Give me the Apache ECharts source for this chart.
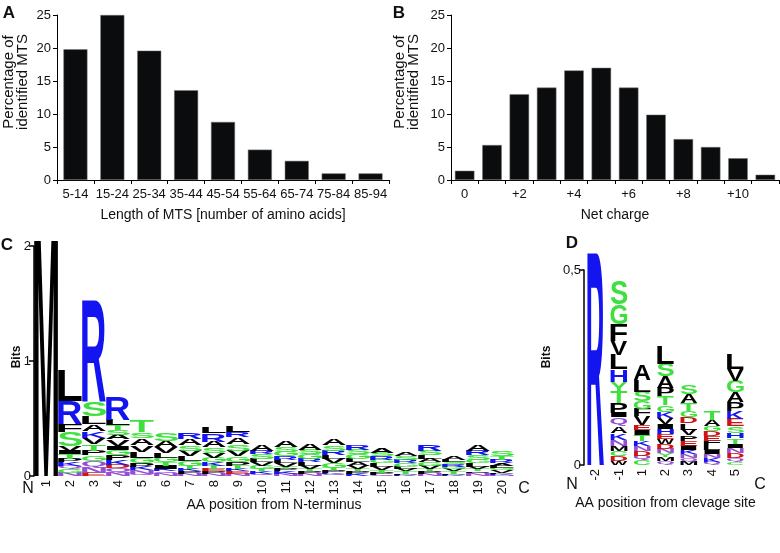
<!DOCTYPE html>
<html>
<head>
<meta charset="utf-8">
<script src="https://cdn.jsdelivr.net/npm/echarts@6/dist/echarts.min.js"></script>
<style>
  html, body { margin: 0; padding: 0; background: #fff; }
  #chart { width: 780px; height: 553px; }
</style>
</head>
<body>
<div id="chart"></div>
<script>
// A: length of MTS
const lengthBins = ['5-14', '15-24', '25-34', '35-44', '45-54', '55-64', '65-74', '75-84', '85-94'];
const lengthPct = [19.8, 25.0, 19.6, 13.6, 8.8, 4.6, 2.9, 1.0, 1.0];

// B: net charge
const chargeBins = ['0', '+1', '+2', '+3', '+4', '+5', '+6', '+7', '+8', '+9', '+10', '+11'];
const chargePct = [1.4, 5.3, 13.0, 14.0, 16.6, 17.0, 14.0, 9.9, 6.2, 5.0, 3.3, 0.8];

// C: logo, positions from N-terminus (letter, bits), bottom -> top
const ntermPos = ['1','2','3','4','5','6','7','8','9','10','11','12','13','14','15','16','17','18','19','20'];
const ntermLogo = [
  [['M', 2.08]],
  [['N',.03],['G',.03],['Q',.03],['K',.03],['P',.03],['T',.04],['I',.03],['V',.04],['S',.12],['F',.07],['R',.20],['L',.27]],
  [['E',.03],['N',.05],['Q',.05],['G',.05],['P',.04],['T',.06],['V',.05],['K',.06],['A',.06],['L',.07],['S',.13],['R',.88]],
  [['N',.03],['Q',.04],['D',.03],['K',.04],['P',.04],['G',.05],['I',.03],['V',.06],['A',.04],['S',.04],['T',.04],['L',.05],['R',.20]],
  [['Q',.02],['N',.03],['K',.03],['P',.03],['G',.05],['L',.05],['V',.06],['A',.06],['S',.05],['T',.10]],
  [['N',.02],['Q',.02],['K',.02],['I',.03],['T',.03],['G',.04],['L',.04],['V',.05],['A',.05],['S',.07]],
  [['N',.02],['P',.02],['K',.02],['T',.03],['G',.04],['L',.04],['V',.05],['S',.05],['A',.05],['R',.06]],
  [['N',.02],['P',.02],['E',.02],['T',.03],['K',.03],['G',.04],['V',.04],['S',.05],['A',.05],['R',.07],['L',.06]],
  [['N',.02],['E',.02],['K',.02],['T',.03],['P',.03],['G',.05],['V',.05],['S',.06],['A',.06],['R',.04],['L',.05]],
  [['Q',.02],['K',.02],['T',.02],['G',.03],['V',.03],['L',.03],['S',.04],['R',.03],['A',.05]],
  [['N',.02],['K',.02],['P',.02],['T',.02],['V',.03],['L',.03],['R',.03],['G',.04],['S',.04],['A',.05]],
  [['N',.02],['P',.02],['T',.02],['V',.03],['L',.03],['R',.03],['G',.04],['S',.04],['A',.05]],
  [['Q',.02],['K',.01],['P',.02],['T',.02],['G',.04],['V',.04],['L',.03],['R',.04],['S',.05],['A',.05]],
  [['K',.02],['P',.02],['T',.02],['V',.03],['A',.03],['L',.03],['G',.04],['S',.04],['R',.04]],
  [['Q',.01],['P',.02],['T',.02],['V',.03],['L',.03],['G',.03],['R',.03],['S',.03],['A',.04]],
  [['K',.01],['P',.01],['T',.02],['V',.02],['L',.02],['G',.03],['R',.03],['S',.03],['A',.03]],
  [['N',.02],['P',.02],['T',.02],['V',.03],['G',.03],['A',.03],['L',.03],['S',.04],['R',.05]],
  [['K',.01],['P',.01],['T',.02],['V',.02],['G',.02],['R',.02],['S',.02],['L',.02],['A',.03]],
  [['N',.02],['Q',.01],['P',.01],['T',.02],['V',.02],['L',.03],['G',.03],['S',.04],['R',.04],['A',.05]],
  [['N',.01],['K',.01],['P',.01],['V',.02],['G',.02],['L',.02],['A',.02],['R',.03],['T',.03],['S',.04]]
];

// D: logo around cleavage site
const cleavePos = ['-2', '-1', '1', '2', '3', '4', '5'];
const cleaveLogo = [
  [['R', .544]],
  [['W',.010],['D',.014],['C',.012],['M',.014],['N',.015],['K',.017],['A',.017],['Q',.023],['I',.012],['P',.026],['T',.028],['Y',.026],['H',.031],['L',.038],['V',.035],['F',.044],['G',.051],['S',.06]],
  [['C',.012],['Q',.012],['D',.012],['N',.012],['K',.013],['T',.015],['I',.013],['E',.013],['V',.023],['F',.018],['G',.02],['S',.025],['L',.03],['A',.04]],
  [['Q',.01],['M',.01],['Y',.01],['N',.012],['D',.012],['W',.013],['E',.013],['H',.012],['I',.012],['V',.016],['K',.016],['G',.018],['T',.022],['P',.022],['A',.03],['S',.032],['L',.045]],
  [['M',.008],['Q',.01],['N',.01],['K',.01],['I',.012],['E',.012],['P',.014],['V',.015],['L',.017],['D',.015],['G',.015],['T',.02],['A',.024],['S',.024]],
  [['Q',.008],['K',.01],['N',.01],['I',.01],['L',.012],['F',.012],['E',.012],['D',.012],['G',.014],['A',.016],['T',.024]],
  [['C',.008],['Q',.01],['D',.012],['N',.014],['I',.01],['T',.014],['H',.014],['S',.017],['E',.02],['K',.02],['P',.022],['A',.025],['G',.03],['V',.03],['L',.038]]
];

const FONT = 'Liberation Sans, Arial, sans-serif';
const LOGO_FONT = 'bold 100px "Liberation Sans"';
const GREEN = '#3ee03e', BLUE = '#1414f0', RED = '#cc1414', PURPLE = '#9450d0', BLACK = '#000';
function aaColor(aa) {
  if ('GSTYC'.includes(aa)) return GREEN;
  if ('NQ'.includes(aa)) return PURPLE;
  if ('KRH'.includes(aa)) return BLUE;
  if ('DE'.includes(aa)) return RED;
  return BLACK;
}

// glyph ink boxes, used to stretch a letter over its cell
const ctx = document.createElement('canvas').getContext('2d');
ctx.font = LOGO_FONT;
ctx.textBaseline = 'middle';
ctx.textAlign = 'left';
const metrics = {};
'ACDEFGHIKLMNPQRSTVWY'.split('').forEach((c) => {
  const m = ctx.measureText(c);
  metrics[c] = { l: m.actualBoundingBoxLeft, r: m.actualBoundingBoxRight, a: m.actualBoundingBoxAscent, d: m.actualBoundingBoxDescent };
});

function stackLetters(logo) {
  const out = [];
  logo.forEach((stack, i) => {
    let y = 0;
    stack.forEach(([aa, h]) => {
      out.push({ value: [i, y, y + h], aa: aa });
      y += h;
    });
  });
  return out;
}
const ntermItems = stackLetters(ntermLogo);
const cleaveItems = stackLetters(cleaveLogo);

function logoRenderer(items, ratio) {
  return function (params, api) {
    const it = items[params.dataIndex];
    const bottom = api.coord([api.value(0), api.value(1)]);
    const top = api.coord([api.value(0), api.value(2)]);
    const w = api.size([1, 0])[0] * ratio;
    const h = bottom[1] - top[1];
    if (h < 0.4) return;
    const m = metrics[it.aa];
    const sx = w / (m.l + m.r);
    const sy = h / (m.a + m.d);
    return {
      type: 'text',
      x: bottom[0] - w / 2 + m.l * sx,
      y: top[1] + m.a * sy,
      scaleX: sx,
      scaleY: sy,
      silent: true,
      style: {
        text: it.aa, x: 0, y: 0, font: LOGO_FONT, fill: aaColor(it.aa),
        align: 'left', verticalAlign: 'middle', textAlign: 'left', textVerticalAlign: 'middle'
      }
    };
  };
}

const chart = echarts.init(document.getElementById('chart'));

const barYAxis = (idx) => ({
  gridIndex: idx, type: 'value', min: 0, max: 25, interval: 5,
  axisLine: { show: true, lineStyle: { color: '#000', width: 1 } },
  axisTick: { show: true, length: 4, lineStyle: { color: '#000' } },
  splitLine: { show: false },
  axisLabel: { color: '#111', fontSize: 13, fontFamily: FONT, margin: 6 }
});
const barXAxis = (idx, data, name, fmt) => ({
  gridIndex: idx, type: 'category', data: data,
  name: name, nameLocation: 'middle', nameGap: 28,
  nameTextStyle: { color: '#111', fontSize: 14, fontFamily: FONT },
  axisLine: { lineStyle: { color: '#000', width: 1 } },
  axisTick: { show: true, length: 4, interval: 0, lineStyle: { color: '#000' } },
  axisLabel: { color: '#111', fontSize: 13, fontFamily: FONT, margin: 8, interval: 0, formatter: fmt }
});
const logoXAxis = (idx, data, name, gap) => ({
  gridIndex: idx, type: 'category', data: data,
  name: name, nameLocation: 'middle', nameGap: gap,
  nameTextStyle: { color: '#111', fontSize: 14, fontFamily: FONT },
  axisLine: { show: false }, axisTick: { show: false },
  axisLabel: { color: '#111', fontSize: 13, fontFamily: FONT, rotate: 90, margin: 4, interval: 0 }
});
const logoYAxis = (idx, max, interval, fmt) => ({
  gridIndex: idx, type: 'value', min: 0, max: max, interval: interval,
  axisLine: { show: true, lineStyle: { color: '#000', width: 1.5 } },
  axisTick: { show: true, length: 5, lineStyle: { color: '#000', width: 1.5 } },
  splitLine: { show: false },
  axisLabel: { color: '#111', fontSize: 13, fontFamily: FONT, margin: 3, formatter: fmt }
});

const textEl = (x, y, text, size, bold, rot) => ({
  type: 'text', x: x, y: y, rotation: rot || 0,
  style: { text: text, font: (bold ? 'bold ' : '') + size + 'px ' + FONT, fill: '#111', align: 'center', verticalAlign: 'middle', textAlign: 'center', textVerticalAlign: 'middle' }
});

const option = {
  animation: false,
  backgroundColor: '#fff',
  grid: [
    { left: 57, top: 15, width: 332, height: 165 },
    { left: 451, top: 15, width: 328, height: 165 },
    { left: 34, top: 246, width: 480, height: 230 },
    { left: 584, top: 270, width: 163, height: 195 }
  ],
  xAxis: [
    barXAxis(0, lengthBins, 'Length of MTS [number of amino acids]'),
    barXAxis(1, chargeBins, 'Net charge', (v, i) => (i % 2 === 0 ? v : '')),
    logoXAxis(2, ntermPos, 'AA position from N-terminus', 20),
    logoXAxis(3, cleavePos, 'AA position from clevage site', 31)
  ],
  yAxis: [
    barYAxis(0),
    barYAxis(1),
    logoYAxis(2, 2, 1),
    logoYAxis(3, 0.5, 0.5, (v) => (v === 0 ? '0' : String(v).replace('.', ',')))
  ],
  series: [
    { type: 'bar', xAxisIndex: 0, yAxisIndex: 0, data: lengthPct, barWidth: 24,
      itemStyle: { color: '#0b0c0e', borderColor: '#777', borderWidth: 0.5 } },
    { type: 'bar', xAxisIndex: 1, yAxisIndex: 1, data: chargePct, barWidth: 19.5,
      itemStyle: { color: '#0b0c0e', borderColor: '#777', borderWidth: 0.5 } },
    { type: 'custom', xAxisIndex: 2, yAxisIndex: 2, encode: { x: 0, y: [1, 2] },
      data: ntermItems.map((d) => d.value), renderItem: logoRenderer(ntermItems, 1.0), clip: false, silent: true },
    { type: 'custom', xAxisIndex: 3, yAxisIndex: 3, encode: { x: 0, y: [1, 2] },
      data: cleaveItems.map((d) => d.value), renderItem: logoRenderer(cleaveItems, 0.72), clip: false, silent: true }
  ],
  graphic: [
    textEl(9, 13, 'A', 17, true),
    textEl(399, 13, 'B', 17, true),
    textEl(7, 245, 'C', 17, true),
    textEl(572, 243, 'D', 17, true),
    textEl(9, 82, 'Percentage of', 15, false, Math.PI / 2),
    textEl(23, 82, 'identified MTS', 15, false, Math.PI / 2),
    textEl(400, 82, 'Percentage of', 15, false, Math.PI / 2),
    textEl(414, 82, 'identified MTS', 15, false, Math.PI / 2),
    textEl(17, 357, 'Bits', 12, true, Math.PI / 2),
    textEl(547, 357, 'Bits', 12, true, Math.PI / 2),
    textEl(28, 489, 'N', 16, false),
    textEl(524, 489, 'C', 16, false),
    textEl(572, 485, 'N', 16, false),
    textEl(760, 485, 'C', 16, false)
  ]
};
chart.setOption(option);
</script>
</body>
</html>
